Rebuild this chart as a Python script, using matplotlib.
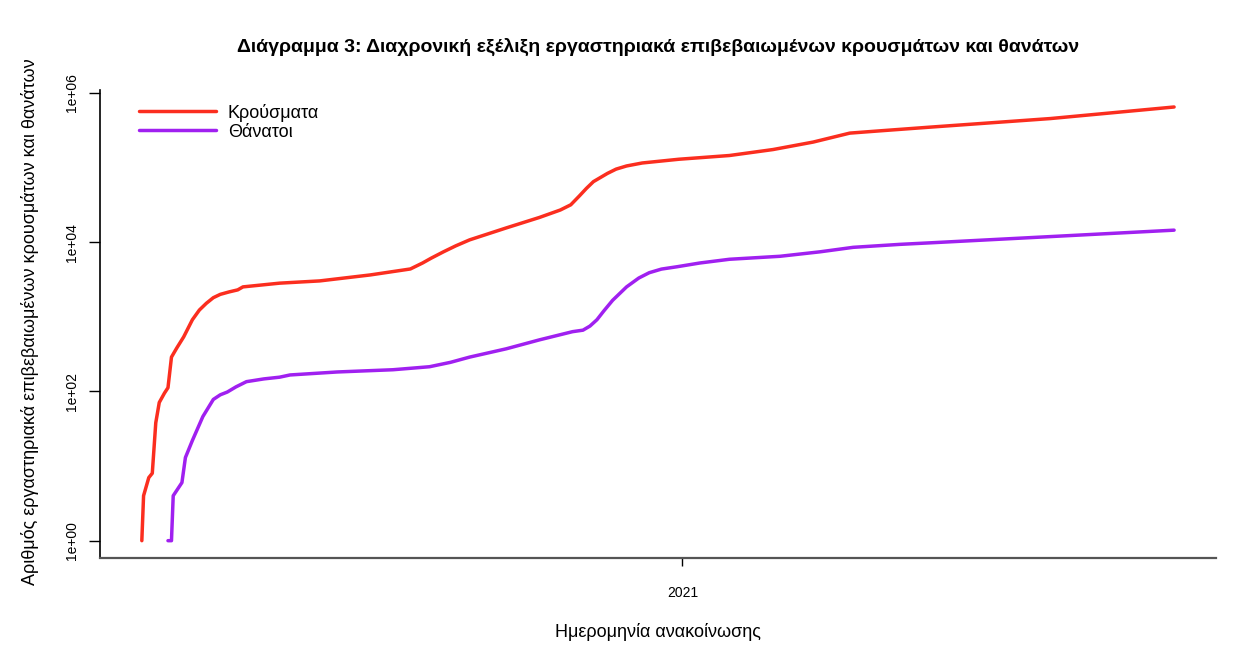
import numpy as np
import matplotlib.pyplot as plt
import matplotlib.dates as mdates

plt.rcParams['font.family'] = ['Liberation Sans', 'DejaVu Sans']

# Day 0 = first announced case
start_date = np.datetime64('2020-02-26')

# Cumulative confirmed cases (log scale)
case_days = [0, 1, 4, 6, 8, 10, 13, 15, 17, 20, 24, 29, 33, 37, 41, 45, 50, 55, 58,
             79, 102, 131, 154, 161, 166, 173, 180, 188, 209, 228, 240, 246, 251,
             255, 259, 267, 272, 278, 287, 308, 337, 362, 385, 406, 423, 452, 521, 592]
cases = [1, 4, 7, 8, 38, 71, 95, 112, 288, 380, 537, 912, 1230, 1514, 1800, 1995,
         2150, 2291, 2512, 2818, 3020, 3631, 4365, 5248, 6100, 7413, 8900, 10715,
         15488, 21380, 26915, 31600, 41700, 52500, 64600, 83176, 95000, 104713,
         114815, 128825, 144544, 173780, 218776, 288403, 309030, 346737, 451856,
         645654]

# Cumulative deaths
death_days = [15, 17, 18, 23, 25, 29, 35, 41, 45, 49, 54, 60, 70, 79, 85, 112, 144,
              165, 177, 188, 209, 228, 247, 253, 257, 261, 265, 270, 278, 285, 291,
              298, 307, 320, 337, 366, 389, 408, 435, 452, 592]
deaths = [1, 1, 4, 6, 13, 22, 46, 78, 90, 98, 115, 135, 147, 155, 166, 182, 195,
          214, 245, 288, 372, 490, 631, 661, 750, 912, 1200, 1660, 2512, 3300, 3890,
          4350, 4677, 5248, 5888, 6457, 7413, 8511, 9333, 9772, 14454]

series_labels = ['Κρούσματα', 'Θάνατοι']
y_ticks = [1, 1e2, 1e4, 1e6]
y_ticklabels = ['1e+00', '1e+02', '1e+04', '1e+06']

case_dates = start_date + np.array(case_days).astype('timedelta64[D]')
death_dates = start_date + np.array(death_days).astype('timedelta64[D]')

fig = plt.figure(figsize=(12.56, 6.72), dpi=100)
ax = fig.add_axes([0.0796, 0.1696, 0.8885, 0.697])

red = '#fb2e1f'
purple = '#a020f0'
ax.plot(case_dates, cases, color=red, lw=2.5, label=series_labels[0], solid_capstyle='round')
ax.plot(death_dates, deaths, color=purple, lw=2.5, label=series_labels[1], solid_capstyle='round')

ax.set_yscale('log')
# R-style 4% padding around the data range
lo, hi = 0.0, np.log10(max(cases))
pad = 0.04 * (hi - lo)
ax.set_ylim(10 ** (lo - pad), 10 ** (hi + pad))
span = case_days[-1] - case_days[0]
ax.set_xlim(start_date - np.timedelta64(int(round(0.04 * span)), 'D'),
            start_date + np.timedelta64(int(round(case_days[-1] + 0.04 * span)), 'D'))

ax.set_yticks(y_ticks)
ax.set_yticklabels(y_ticklabels, rotation=90, va='center', fontsize=10)
ax.yaxis.set_minor_locator(plt.NullLocator())
ax.set_xticks([mdates.date2num(np.datetime64('2021-01-01'))])
ax.set_xticklabels(['2021'], fontsize=10)
ax.tick_params(axis='y', length=8, width=1, pad=7)
ax.tick_params(axis='x', length=6, width=1, pad=14)

for s in ['top', 'right']:
    ax.spines[s].set_visible(False)
ax.spines['left'].set_linewidth(1.2)
ax.spines['bottom'].set_linewidth(1.6)
ax.spines['bottom'].set_color('#555555')

fig.text(658 / 1256, 1 - 47 / 672,
         'Διάγραμμα 3: Διαχρονική εξέλιξη εργαστηριακά επιβεβαιωμένων κρουσμάτων και θανάτων',
         fontsize=14, fontweight='bold', ha='center', va='center')
fig.text(658 / 1256, 1 - 632 / 672, 'Ημερομηνία ανακοίνωσης',
         fontsize=13, ha='center', va='center')
fig.text(30 / 1256, 1 - 322 / 672, 'Αριθμός εργαστηριακά επιβεβαιωμένων κρουσμάτων και θανάτων',
         fontsize=13, rotation=90, ha='center', va='center')

ax.legend(loc='upper left', bbox_to_anchor=(0.02, 1.005), frameon=False, fontsize=13,
          handlelength=4.3, handletextpad=0.65, labelspacing=0.12)

fig.savefig('out.png', dpi=100)
